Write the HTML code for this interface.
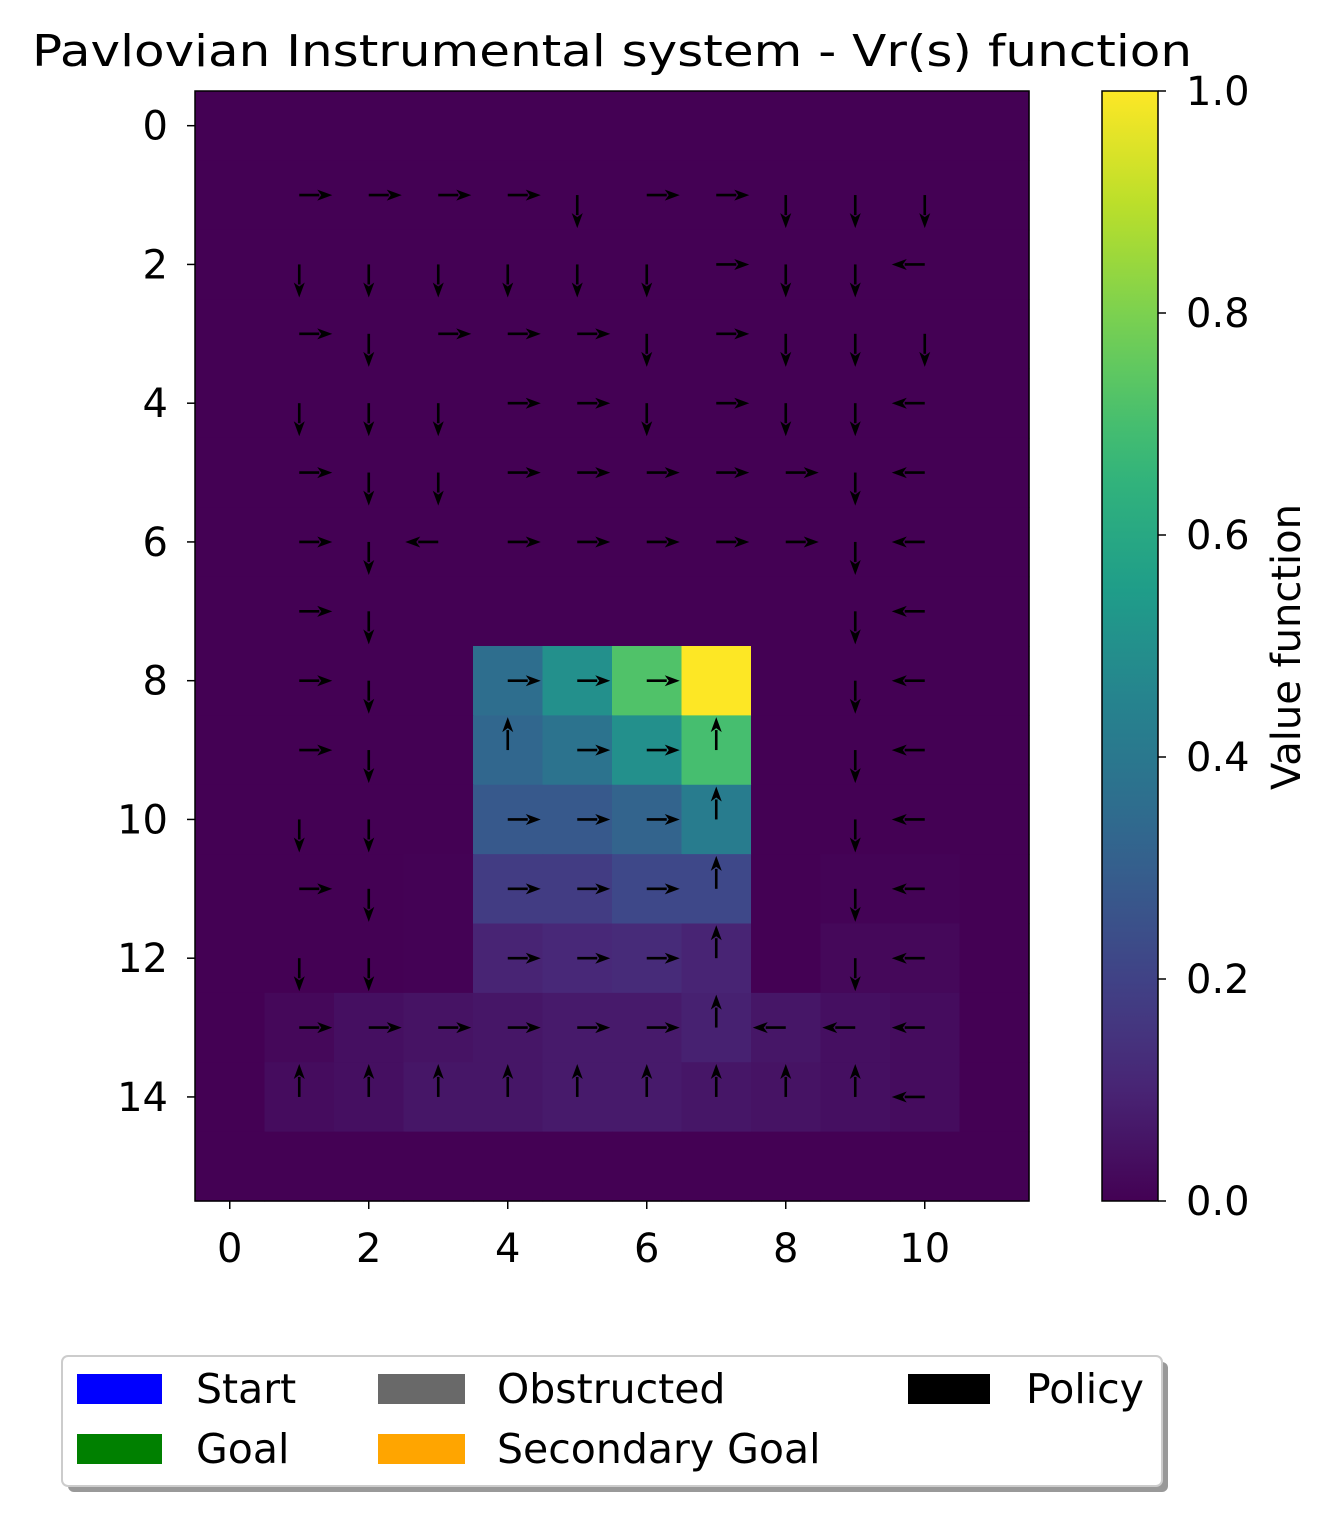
<!DOCTYPE html>
<html><head><meta charset="utf-8"><style>
body{margin:0;background:#fff;}
svg{display:block;font-family:"DejaVu Sans","Liberation Sans",sans-serif;}
</style></head><body>
<svg id="chart" width="1339" height="1519" viewBox="0 0 1339 1519" xmlns="http://www.w3.org/2000/svg">
<text x="32" y="66" font-size="44" textLength="1160" lengthAdjust="spacingAndGlyphs">Pavlovian Instrumental system - Vr(s) function</text>
<g id="heat"></g>
<g id="arrows"></g>
<rect x="195" y="91" width="834" height="1110" fill="none" stroke="#000" stroke-width="1.5"/>
<g id="axes" font-size="40"></g>
<defs><linearGradient id="vir" x1="0" y1="1" x2="0" y2="0"></linearGradient></defs>
<rect x="1102" y="91" width="56" height="1110" fill="url(#vir)" stroke="#000" stroke-width="1.5"/>
<g id="cbticks" font-size="40"></g>
<text transform="translate(1300,647) rotate(-90)" font-size="40" text-anchor="middle">Value function</text>
<g>
<rect x="68" y="1362" width="1100" height="130" rx="6" fill="#999"/>
<rect x="62" y="1356" width="1100" height="130" rx="6" fill="#fff" stroke="#ccc" stroke-width="2"/>
<g font-size="41">
<rect x="77" y="1374" width="85" height="30" fill="#0000ff"/>
<text x="196" y="1403">Start</text>
<rect x="77" y="1434" width="85" height="30" fill="#008000"/>
<text x="196" y="1463">Goal</text>
<rect x="378" y="1374" width="87" height="30" fill="#696969"/>
<text x="497" y="1403">Obstructed</text>
<rect x="378" y="1434" width="87" height="30" fill="#ffa500"/>
<text x="497" y="1463">Secondary Goal</text>
<rect x="908" y="1374" width="82" height="30" fill="#000"/>
<text x="1026" y="1403">Policy</text>
</g></g>
</svg>
<script>
const values = [
[0,0,0,0,0,0,0,0,0,0,0,0],
[0,0,0,0,0,0,0,0,0,0,0,0],
[0,0,0,0,0,0,0,0,0,0,0,0],
[0,0,0,0,0,0,0,0,0,0,0,0],
[0,0,0,0,0,0,0,0,0,0,0,0],
[0,0,0,0,0,0,0,0,0,0,0,0],
[0,0,0,0,0,0,0,0,0,0,0,0],
[0,0,0,0,0,0,0,0,0,0,0,0],
[0,0,0,0,0.36,0.5,0.72,1.0,0,0,0,0],
[0,0,0,0,0.33,0.38,0.5,0.7,0,0,0,0],
[0,0,0,0,0.28,0.28,0.32,0.42,0,0,0,0],
[0,0,0,0.004,0.18,0.18,0.22,0.22,0,0.006,0.006,0],
[0,0,0,0.004,0.1,0.11,0.12,0.1,0,0.02,0.02,0],
[0,0.02,0.04,0.05,0.06,0.07,0.07,0.09,0.06,0.04,0.03,0],
[0,0.03,0.04,0.06,0.06,0.07,0.07,0.06,0.05,0.04,0.03,0],
[0,0,0,0,0,0,0,0,0,0,0,0]
];
const policy = [
"............",
".RRRRDRRDDD.",
".DDDDDDRDDL.",
".RDRRRDRDDD.",
".DDDRRDRDDL.",
".RDDRRRRRDL.",
".RDLRRRRRDL.",
".RD......DL.",
".RD.RRR..DL.",
".RD.URRU.DL.",
".DD.RRRU.DL.",
".RD.RRRU.DL.",
".DD.RRRU.DL.",
".RRRRRRULLL.",
".UUUUUUUUUL.",
"............"
];
const xTicks = [0,2,4,6,8,10];
const yTicks = [0,2,4,6,8,10,12,14];
const cbTicks = [0,0.2,0.4,0.6,0.8,1.0];

const X0=195,Y0=91,CW=834/12,CH=1110/16;
const xc=c=>X0+(c+0.5)*CW, yc=r=>Y0+(r+0.5)*CH;
const vstops=[[68,1,84],[72,40,120],[62,73,137],[49,104,142],[38,130,142],[31,158,137],[53,183,121],[110,206,88],[181,222,43],[253,231,37]];
function vir(t){t=Math.max(0,Math.min(1,t));const p=t*9,i=Math.min(8,Math.floor(p)),f=p-i;const a=vstops[i],b=vstops[i+1];
return `rgb(${a.map((v,k)=>Math.round(v+(b[k]-v)*f)).join(',')})`;}
const NS="http://www.w3.org/2000/svg";
function mk(tag,attrs,parent){const e=document.createElementNS(NS,tag);for(const k in attrs)e.setAttribute(k,attrs[k]);parent.appendChild(e);return e;}
const heat=document.getElementById('heat');
values.forEach((row,r)=>row.forEach((v,c)=>{
 const e=mk('rect',{x:X0+c*CW,y:Y0+r*CH,width:CW+0.6,height:CH+0.6,fill:vir(v)},heat);
 
 
}));
const ar=document.getElementById('arrows');
const L=33,HL=15,HW=5.5;
policy.forEach((s,r)=>[...s].forEach((d,c)=>{
 if(d==='.')return;
 const dx={R:1,L:-1,U:0,D:0}[d],dy={R:0,L:0,U:-1,D:1}[d];
 const x=xc(c),y=yc(r),tx=x+dx*L,ty=y+dy*L,bx=tx-dx*HL,by=ty-dy*HL;
 const px=-dy,py=dx;
 const g=mk('g',{},ar);
 
 
 mk('line',{x1:x,y1:y,x2:bx+dx*2,y2:by+dy*2,stroke:'#000','stroke-width':2.6},g);
 mk('polygon',{points:`${tx},${ty} ${bx+px*HW},${by+py*HW} ${bx+dx*4},${by+dy*4} ${bx-px*HW},${by-py*HW}`,fill:'#000'},g);
}));
const ax=document.getElementById('axes');
xTicks.forEach(t=>{const x=xc(t);
 mk('line',{x1:x,y1:1201,x2:x,y2:1209,stroke:'#000','stroke-width':1.5},ax);
 const e=mk('text',{x:x,y:1262,'text-anchor':'middle'},ax);e.textContent=t;
 
 
});
yTicks.forEach(t=>{const y=yc(t);
 mk('line',{x1:187,y1:y,x2:195,y2:y,stroke:'#000','stroke-width':1.5},ax);
 const e=mk('text',{x:168,y:y+14,'text-anchor':'end'},ax);e.textContent=t;
 
 
});
const gr=document.getElementById('vir');
for(let i=0;i<=20;i++){mk('stop',{offset:(i/20),'stop-color':vir(i/20)},gr);}
const cb=document.getElementById('cbticks');
cbTicks.forEach(t=>{const y=1201-t*1110;
 mk('line',{x1:1158,y1:y,x2:1166,y2:y,stroke:'#000','stroke-width':1.5},cb);
 const e=mk('text',{x:1186,y:y+14},cb);e.textContent=t.toFixed(1);
 
 
});
</script>
</body></html>
